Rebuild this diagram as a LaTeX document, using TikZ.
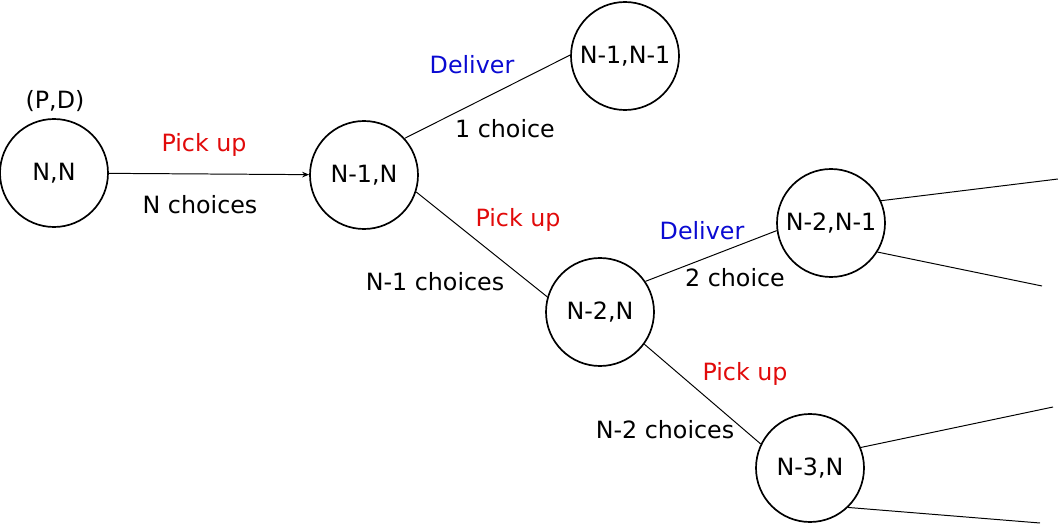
\documentclass[tikz,border=0pt]{standalone}
\usepackage{fontspec}
\setmainfont{DejaVu Sans}
\usetikzlibrary{arrows.meta}
\definecolor{pickred}{RGB}{225,10,10}
\definecolor{delblue}{RGB}{10,10,210}

\begin{document}
\begin{tikzpicture}[x=0.025cm, y=-0.025cm,
  font=\fontsize{16.9}{20}\selectfont,
  state/.style={circle, draw, line width=1.2pt, minimum size=108*0.025cm, inner sep=0pt},
  edge/.style={line width=0.7pt},
  pick/.style={text=pickred},
  deliv/.style={text=delblue}]
\useasboundingbox (0,0) rectangle (1058,524);

% States
\path
(54,173) node[state] (NN) {N,N}
(364,175) node[state] (N1N) {N-1,N}
(625,56) node[state] (N1N1) {N-1,N-1}
(600,312) node[state] (N2N) {N-2,N}
(831,223) node[state] (N2N1) {N-2,N-1}
(810,468) node[state] (N3N) {N-3,N}
;

% Free ends
\coordinate (a1) at (1058,179);
\coordinate (a2) at (1042,286);
\coordinate (b1) at (1053,407);
\coordinate (b2) at (1040,523);

% Labels
\path
(55,101) node (pd) {(P,D)}
(204,145) node[pick] (pick1) {Pick up}
(200,205) node (ch1) {N choices}
(472,65) node[deliv] (del1) {Deliver}
(505,129) node (ch2) {1 choice}
(518,220) node[pick] (pick2) {Pick up}
(435,282) node (ch3) {N-1 choices}
(702,231) node[deliv] (del2) {Deliver}
(735,278) node (ch4) {2 choice}
(745,374) node[pick] (pick3) {Pick up}
(665,430) node (ch5) {N-2 choices}
;

\draw[edge, -{Stealth[length=5pt, width=4pt]}] (NN) -- (N1N);
\draw[edge]
(N1N.42) -- (N1N1.179)
(N1N.-18) -- (N2N.164)
(N2N.34) -- (N2N1.188)
(N2N.-36) -- (N3N.154)
(N2N1.24) -- (a1)
(N2N1.-32) -- (a2)
(N3N.22) -- (b1)
(N3N.-46) -- (b2)
;

\end{tikzpicture}
\end{document}
